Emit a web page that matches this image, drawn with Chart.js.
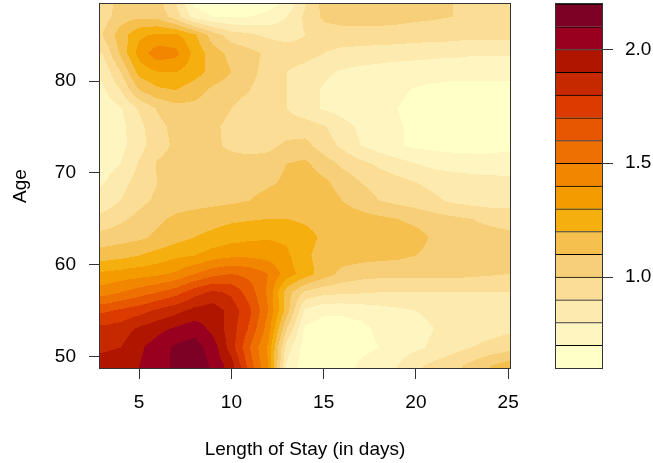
<!DOCTYPE html>
<html>
<head>
<meta charset="utf-8">
<title>Length of Stay by Age</title>
<script src="https://cdn.jsdelivr.net/npm/chart.js@4.4.1/dist/chart.umd.min.js"></script>
<style>
  html, body { margin: 0; padding: 0; background: #fff; }
  #wrap { position: relative; width: 653px; height: 463px; }
  #wrap canvas { position: absolute; left: 0; top: 0; }
</style>
</head>
<body>
<div id="wrap">
  <canvas id="surface" width="653" height="463"></canvas>
  <canvas id="key" width="653" height="463"></canvas>
</div>
<script>
// grid columns (days) and rows (age)
const stayDays = [3, 4, 5, 6, 7, 8, 9, 10, 11, 12, 13, 14, 15, 16, 17, 18, 19, 20, 21, 22, 23, 24, 25];
const ageRows = [49, 51, 53, 55, 57, 59, 61, 63, 65, 67, 69, 71, 73, 75, 77, 79, 81, 83, 85, 87, 89];

// one row per age, one value per day
const riskGrid = [
  [1.95, 1.97, 2.00, 2.06, 2.12, 2.17, 2.08, 1.95, 1.65, 1.40, 0.78, 0.65, 0.65, 0.65, 0.72, 0.76, 0.80, 0.88, 0.93, 0.97, 1.03, 1.10, 1.15],
  [1.88, 1.90, 1.98, 2.05, 2.12, 2.15, 2.05, 1.85, 1.60, 1.38, 0.85, 0.65, 0.65, 0.65, 0.67, 0.70, 0.75, 0.78, 0.82, 0.86, 0.90, 0.93, 0.96],
  [1.83, 1.85, 1.92, 1.97, 2.02, 2.06, 1.97, 1.85, 1.68, 1.45, 1.00, 0.68, 0.65, 0.65, 0.67, 0.72, 0.75, 0.77, 0.80, 0.82, 0.85, 0.86, 0.88],
  [1.68, 1.72, 1.76, 1.82, 1.87, 1.93, 1.96, 1.86, 1.72, 1.50, 1.15, 0.78, 0.72, 0.72, 0.74, 0.76, 0.78, 0.80, 0.82, 0.84, 0.85, 0.86, 0.86],
  [1.45, 1.50, 1.55, 1.60, 1.66, 1.76, 1.82, 1.78, 1.65, 1.48, 1.15, 0.98, 0.93, 0.92, 0.91, 0.90, 0.90, 0.90, 0.90, 0.90, 0.90, 0.90, 0.90],
  [1.32, 1.34, 1.36, 1.38, 1.42, 1.50, 1.57, 1.60, 1.57, 1.50, 1.35, 1.25, 1.15, 1.07, 1.04, 1.03, 1.03, 1.03, 1.03, 1.03, 1.02, 1.01, 1.00],
  [1.15, 1.17, 1.20, 1.24, 1.28, 1.30, 1.35, 1.38, 1.38, 1.36, 1.32, 1.22, 1.16, 1.15, 1.14, 1.13, 1.12, 1.10, 1.07, 1.05, 1.05, 1.04, 1.04],
  [1.04, 1.06, 1.08, 1.12, 1.16, 1.20, 1.23, 1.26, 1.28, 1.29, 1.28, 1.24, 1.18, 1.17, 1.16, 1.16, 1.17, 1.14, 1.08, 1.05, 1.04, 1.03, 1.02],
  [0.93, 0.98, 1.03, 1.08, 1.12, 1.14, 1.16, 1.18, 1.19, 1.20, 1.20, 1.18, 1.16, 1.15, 1.14, 1.12, 1.10, 1.07, 1.04, 1.02, 1.00, 0.98, 0.97],
  [0.84, 0.90, 0.97, 1.02, 1.05, 1.06, 1.07, 1.08, 1.10, 1.14, 1.17, 1.17, 1.15, 1.10, 1.05, 1.00, 0.97, 0.95, 0.92, 0.88, 0.86, 0.85, 0.85],
  [0.79, 0.86, 0.94, 1.00, 1.03, 1.04, 1.04, 1.05, 1.06, 1.08, 1.12, 1.15, 1.12, 1.06, 1.00, 0.96, 0.93, 0.90, 0.87, 0.85, 0.84, 0.83, 0.82],
  [0.75, 0.80, 0.91, 1.01, 1.04, 1.05, 1.04, 1.04, 1.04, 1.05, 1.10, 1.12, 1.05, 0.98, 0.93, 0.88, 0.84, 0.80, 0.77, 0.76, 0.75, 0.75, 0.76],
  [0.72, 0.77, 0.86, 0.96, 1.02, 1.03, 1.02, 0.98, 0.96, 0.97, 1.02, 1.03, 0.95, 0.88, 0.80, 0.75, 0.71, 0.68, 0.67, 0.66, 0.66, 0.66, 0.67],
  [0.72, 0.77, 0.87, 0.97, 1.03, 1.05, 1.02, 0.97, 0.95, 0.95, 0.95, 0.95, 0.91, 0.84, 0.78, 0.74, 0.71, 0.68, 0.65, 0.64, 0.64, 0.64, 0.64],
  [0.73, 0.79, 0.91, 1.01, 1.06, 1.07, 1.05, 1.00, 0.95, 0.93, 0.90, 0.84, 0.79, 0.76, 0.74, 0.72, 0.70, 0.67, 0.65, 0.64, 0.63, 0.63, 0.64],
  [0.78, 0.90, 1.10, 1.18, 1.20, 1.14, 1.08, 1.05, 1.00, 0.95, 0.90, 0.84, 0.79, 0.76, 0.75, 0.74, 0.72, 0.69, 0.67, 0.66, 0.66, 0.66, 0.66],
  [0.82, 1.00, 1.24, 1.30, 1.30, 1.25, 1.16, 1.10, 1.03, 0.96, 0.90, 0.86, 0.82, 0.79, 0.77, 0.76, 0.75, 0.75, 0.75, 0.74, 0.74, 0.74, 0.74],
  [0.90, 1.12, 1.34, 1.46, 1.43, 1.27, 1.15, 1.07, 1.03, 0.98, 0.96, 0.94, 0.90, 0.87, 0.86, 0.85, 0.84, 0.83, 0.82, 0.82, 0.81, 0.81, 0.81],
  [1.00, 1.15, 1.28, 1.32, 1.32, 1.22, 1.05, 0.95, 0.92, 0.88, 0.86, 0.90, 0.95, 0.96, 0.96, 0.96, 0.96, 0.95, 0.95, 0.94, 0.93, 0.93, 0.93],
  [0.95, 1.05, 1.08, 1.07, 0.95, 0.76, 0.70, 0.69, 0.70, 0.73, 0.80, 0.92, 1.02, 1.04, 1.04, 1.04, 1.03, 1.02, 1.01, 1.00, 0.97, 0.96, 0.95],
  [0.95, 1.02, 1.05, 1.02, 0.88, 0.65, 0.60, 0.60, 0.60, 0.63, 0.70, 0.88, 1.04, 1.07, 1.07, 1.06, 1.05, 1.04, 1.02, 1.00, 0.98, 0.97, 0.96]
];

// contour levels and fill colours (light to dark)
const levels = [0.6, 0.7, 0.8, 0.9, 1.0, 1.1, 1.2, 1.3, 1.4, 1.5, 1.6, 1.7, 1.8, 1.9, 2.0, 2.1, 2.2];
const levelColors = [
  '#FFFFC8', '#FEF5C1', '#FDEAAF', '#FBDD95', '#F8CF79', '#F5C04E', '#F5B010', '#F49B00',
  '#F28600', '#EE7000', '#E65700', '#DC3B00', '#C62800', '#B01500', '#990020', '#7D0025'
];

const xTicks = [5, 10, 15, 20, 25];
const yTicks = [50, 60, 70, 80];
const keyTicks = [1.0, 1.5, 2.0];

const font = { family: "'Liberation Sans', Arial, Helvetica, sans-serif", size: 19 };
const lineColor = '#333';

function clamp(v, lo, hi) { return Math.max(lo, Math.min(hi, v)); }

function findCell(arr, v) {
  let i = 0;
  while (i < arr.length - 2 && v > arr[i + 1]) i++;
  return i;
}

function gridValue(day, age) {
  const i = findCell(stayDays, day);
  const j = findCell(ageRows, age);
  const tx = clamp((day - stayDays[i]) / (stayDays[i + 1] - stayDays[i]), 0, 1);
  const ty = clamp((age - ageRows[j]) / (ageRows[j + 1] - ageRows[j]), 0, 1);
  const a = riskGrid[j][i], b = riskGrid[j][i + 1];
  const c = riskGrid[j + 1][i], d = riskGrid[j + 1][i + 1];
  return (a * (1 - tx) + b * tx) * (1 - ty) + (c * (1 - tx) + d * tx) * ty;
}

function hexToRgb(h) {
  return [parseInt(h.slice(1, 3), 16), parseInt(h.slice(3, 5), 16), parseInt(h.slice(5, 7), 16)];
}
const levelRgb = levelColors.map(hexToRgb);

function bandOf(z) {
  let k = 0;
  while (k < levelColors.length - 1 && z >= levels[k + 1]) k++;
  return k;
}

// keep the plot box where it is: no extra room for half tick labels
function noEdgePadding(ax) {
  ax.paddingTop = 0;
  ax.paddingBottom = 0;
  ax.paddingLeft = 0;
  ax.paddingRight = 0;
}

// paints the filled contour bands inside the plot area, using the chart's scales
const contourPlugin = {
  id: 'contour',
  beforeDatasetsDraw(chart) {
    const { ctx, chartArea: area, scales: { x, y } } = chart;
    const w = Math.round(area.right - area.left);
    const h = Math.round(area.bottom - area.top);
    const off = document.createElement('canvas');
    off.width = w;
    off.height = h;
    const octx = off.getContext('2d');
    const img = octx.createImageData(w, h);
    for (let row = 0; row < h; row++) {
      const age = y.getValueForPixel(area.top + row + 0.5);
      for (let col = 0; col < w; col++) {
        const day = x.getValueForPixel(area.left + col + 0.5);
        const rgb = levelRgb[bandOf(gridValue(day, age))];
        const p = (row * w + col) * 4;
        img.data[p] = rgb[0];
        img.data[p + 1] = rgb[1];
        img.data[p + 2] = rgb[2];
        img.data[p + 3] = 255;
      }
    }
    octx.putImageData(img, 0, 0);
    ctx.drawImage(off, area.left, area.top);
  }
};

// box round the plot region
const framePlugin = {
  id: 'frame',
  afterDraw(chart) {
    const { ctx, chartArea: a } = chart;
    ctx.save();
    ctx.strokeStyle = lineColor;
    ctx.lineWidth = 1;
    ctx.strokeRect(Math.round(a.left) - 0.5, Math.round(a.top) - 0.5,
      Math.round(a.right - a.left) + 1, Math.round(a.bottom - a.top) + 1);
    ctx.restore();
  }
};

const gridPoints = [];
ageRows.forEach((age, j) => {
  stayDays.forEach((day, i) => gridPoints.push({ x: day, y: age, v: riskGrid[j][i] }));
});

new Chart(document.getElementById('surface'), {
  type: 'scatter',
  data: {
    datasets: [{ data: gridPoints, pointRadius: 0, pointHoverRadius: 0 }]
  },
  options: {
    responsive: false,
    animation: false,
    devicePixelRatio: 1,
    events: [],
    layout: { padding: { left: 0, right: 143, top: 4, bottom: 0 } },
    plugins: { legend: { display: false }, tooltip: { enabled: false } },
    scales: {
      x: {
        type: 'linear',
        min: 2.88,
        max: 25.1,
        afterBuildTicks: ax => { ax.ticks = xTicks.map(v => ({ value: v })); },
        afterFit: ax => { ax.height = 95; noEdgePadding(ax); },
        grid: { drawOnChartArea: false, drawTicks: true, tickLength: 11, color: lineColor },
        border: { display: false },
        ticks: { padding: 12, color: '#000', font: font, maxRotation: 0 },
        title: { display: true, text: 'Length of Stay (in days)', color: '#000', font: font, padding: { top: 0, bottom: 2 } }
      },
      y: {
        type: 'linear',
        min: 48.77,
        max: 88.38,
        afterBuildTicks: ax => { ax.ticks = yTicks.map(v => ({ value: v })); },
        afterFit: ax => { ax.width = 100; noEdgePadding(ax); },
        grid: { drawOnChartArea: false, drawTicks: true, tickLength: 11, color: lineColor },
        border: { display: false },
        ticks: { padding: 13, color: '#000', font: font },
        title: { display: true, text: 'Age', color: '#000', font: font, padding: { top: 9, bottom: 0 } }
      }
    }
  },
  plugins: [contourPlugin, framePlugin]
});

// colour key: one floating bar per level band
new Chart(document.getElementById('key'), {
  type: 'bar',
  data: {
    labels: [''],
    datasets: levelColors.map((c, k) => ({
      data: [[levels[k], levels[k + 1]]],
      backgroundColor: c,
      borderColor: '#000',
      borderWidth: { top: 1, bottom: 0, left: 0, right: 0 },
      borderSkipped: false,
      grouped: false,
      barPercentage: 1,
      categoryPercentage: 1
    }))
  },
  options: {
    responsive: false,
    animation: false,
    devicePixelRatio: 1,
    events: [],
    layout: { padding: { left: 556, right: 0, top: 4, bottom: 95 } },
    plugins: { legend: { display: false }, tooltip: { enabled: false } },
    scales: {
      x: { display: false },
      y: {
        position: 'right',
        min: 0.6,
        max: 2.2,
        afterBuildTicks: ax => { ax.ticks = keyTicks.map(v => ({ value: v })); },
        afterFit: ax => { ax.width = 51; noEdgePadding(ax); },
        grid: { drawOnChartArea: false, drawTicks: true, tickLength: 11, color: lineColor },
        border: { display: false },
        ticks: { padding: 12, color: '#000', font: font, callback: v => Number(v).toFixed(1) }
      }
    }
  },
  plugins: [framePlugin]
});
</script>
</body>
</html>
